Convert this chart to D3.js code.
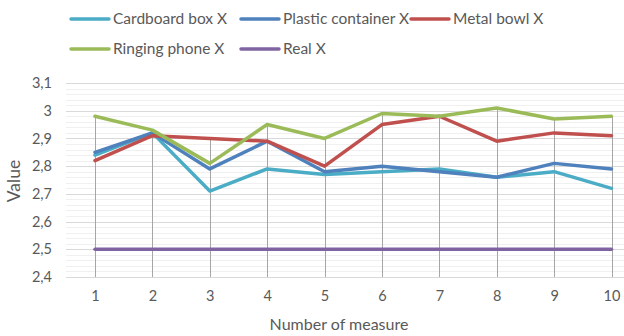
<!DOCTYPE html>
<html>
<head>
<meta charset="utf-8">
<script src="https://cdn.jsdelivr.net/npm/d3@7"></script>
<style>
  html, body { margin: 0; padding: 0; background: #fff; }
  svg { display: block; }
  text { font-family: Lato, "Open Sans", sans-serif; fill: #595959; }
</style>
</head>
<body>
<svg id="chart" width="624" height="336"></svg>
<script>
// Measure numbers on the x axis
const measures = [1, 2, 3, 4, 5, 6, 7, 8, 9, 10];

// Estimated X per source
const cardboardBox     = [2.84, 2.92, 2.71, 2.79, 2.77, 2.78, 2.79, 2.76, 2.78, 2.72];
const plasticContainer = [2.85, 2.92, 2.79, 2.89, 2.78, 2.80, 2.78, 2.76, 2.81, 2.79];
const metalBowl        = [2.82, 2.91, 2.90, 2.89, 2.80, 2.95, 2.98, 2.89, 2.92, 2.91];
const ringingPhone     = [2.98, 2.93, 2.81, 2.95, 2.90, 2.99, 2.98, 3.01, 2.97, 2.98];
const realX            = [2.50, 2.50, 2.50, 2.50, 2.50, 2.50, 2.50, 2.50, 2.50, 2.50];

const seriesNames  = ["Cardboard box X", "Plastic container X", "Metal bowl X", "Ringing phone X", "Real X"];
const seriesColors = ["#4bacc6", "#4f81bd", "#c0504d", "#9bbb59", "#8064a2"];
const yTicks = [2.4, 2.5, 2.6, 2.7, 2.8, 2.9, 3.0, 3.1];

const series = [cardboardBox, plasticContainer, metalBowl, ringingPhone, realX].map((vals, i) => ({
  name: seriesNames[i], color: seriesColors[i],
  points: vals.map((v, j) => ({ m: measures[j], v }))
}));

const svg = d3.select("#chart");
const plotLeft = 66, plotRight = 624, plotTop = 83, plotBottom = 277;

const x = d3.scalePoint().domain(measures).range([95, 611.5]);
const y = d3.scaleLinear().domain([2.4, 3.1]).range([plotBottom, plotTop]);

// minor gridlines every 0.02
const minor = d3.range(0, 36).map(i => +(2.4 + i * 0.02).toFixed(2))
  .filter(v => Math.abs(v * 10 - Math.round(v * 10)) > 1e-6);
svg.append("g").selectAll("line").data(minor).join("line")
  .attr("x1", plotLeft).attr("x2", plotRight)
  .attr("y1", d => Math.round(y(d)) + 0.5).attr("y2", d => Math.round(y(d)) + 0.5)
  .attr("stroke", "#f0f0f0").attr("stroke-width", 1);

// major gridlines
svg.append("g").selectAll("line").data(yTicks).join("line")
  .attr("x1", plotLeft).attr("x2", plotRight)
  .attr("y1", d => Math.round(y(d)) + 0.5).attr("y2", d => Math.round(y(d)) + 0.5)
  .attr("stroke", "#d9d9d9").attr("stroke-width", 1);

// y axis labels
const yAxis = svg.append("g").attr("transform", `translate(${plotLeft},0)`)
  .call(d3.axisLeft(y).tickValues(yTicks).tickSize(0).tickPadding(14)
    .tickFormat(d => d3.format("~g")(d).replace(".", ",")));
yAxis.select(".domain").remove();
yAxis.selectAll("text").style("font-size", "14.5px").attr("fill", "#595959")
  .style("font-family", "Lato, sans-serif");

// drop lines from the highest point at each measure
svg.append("g").selectAll("line").data(measures).join("line")
  .attr("x1", d => Math.round(x(d)) + 0.5).attr("x2", d => Math.round(x(d)) + 0.5)
  .attr("y1", (d, j) => y(d3.max(series, s => s.points[j].v)))
  .attr("y2", plotBottom)
  .attr("stroke", "#a6a6a6").attr("stroke-width", 1);

// x axis labels
const xAxis = svg.append("g").attr("transform", `translate(0,${plotBottom})`)
  .call(d3.axisBottom(x).tickSize(0).tickPadding(14));
xAxis.select(".domain").remove();
xAxis.selectAll("text").style("font-size", "14.5px").attr("fill", "#595959")
  .style("font-family", "Lato, sans-serif");

// series lines
const line = d3.line().x(d => x(d.m)).y(d => y(d.v));
svg.append("g").selectAll("path").data(series).join("path")
  .attr("d", d => line(d.points))
  .attr("fill", "none")
  .attr("stroke", d => d.color)
  .attr("stroke-width", 3.5)
  .attr("stroke-linejoin", "round")
  .attr("stroke-linecap", "round");

// axis titles
svg.append("text").attr("x", 339).attr("y", 330).attr("text-anchor", "middle")
  .style("font-size", "16px").text("Number of measure");
svg.append("text").attr("transform", "translate(20,181) rotate(-90)")
  .attr("text-anchor", "middle").style("font-size", "17.5px").text("Value");

// legend
const legendPos = [[71, 19], [241, 19], [411, 19], [71, 49], [241, 49]];
const lg = svg.append("g").selectAll("g").data(series).join("g")
  .attr("transform", (d, i) => `translate(${legendPos[i][0]},${legendPos[i][1]})`);
lg.append("line").attr("x1", 0).attr("x2", 38).attr("y1", 0).attr("y2", 0)
  .attr("stroke", d => d.color).attr("stroke-width", 3.5).attr("stroke-linecap", "round");
lg.append("text").attr("x", 42).attr("y", 0).attr("dy", "0.35em")
  .style("font-size", "15.5px").text(d => d.name);
</script>
</body>
</html>
